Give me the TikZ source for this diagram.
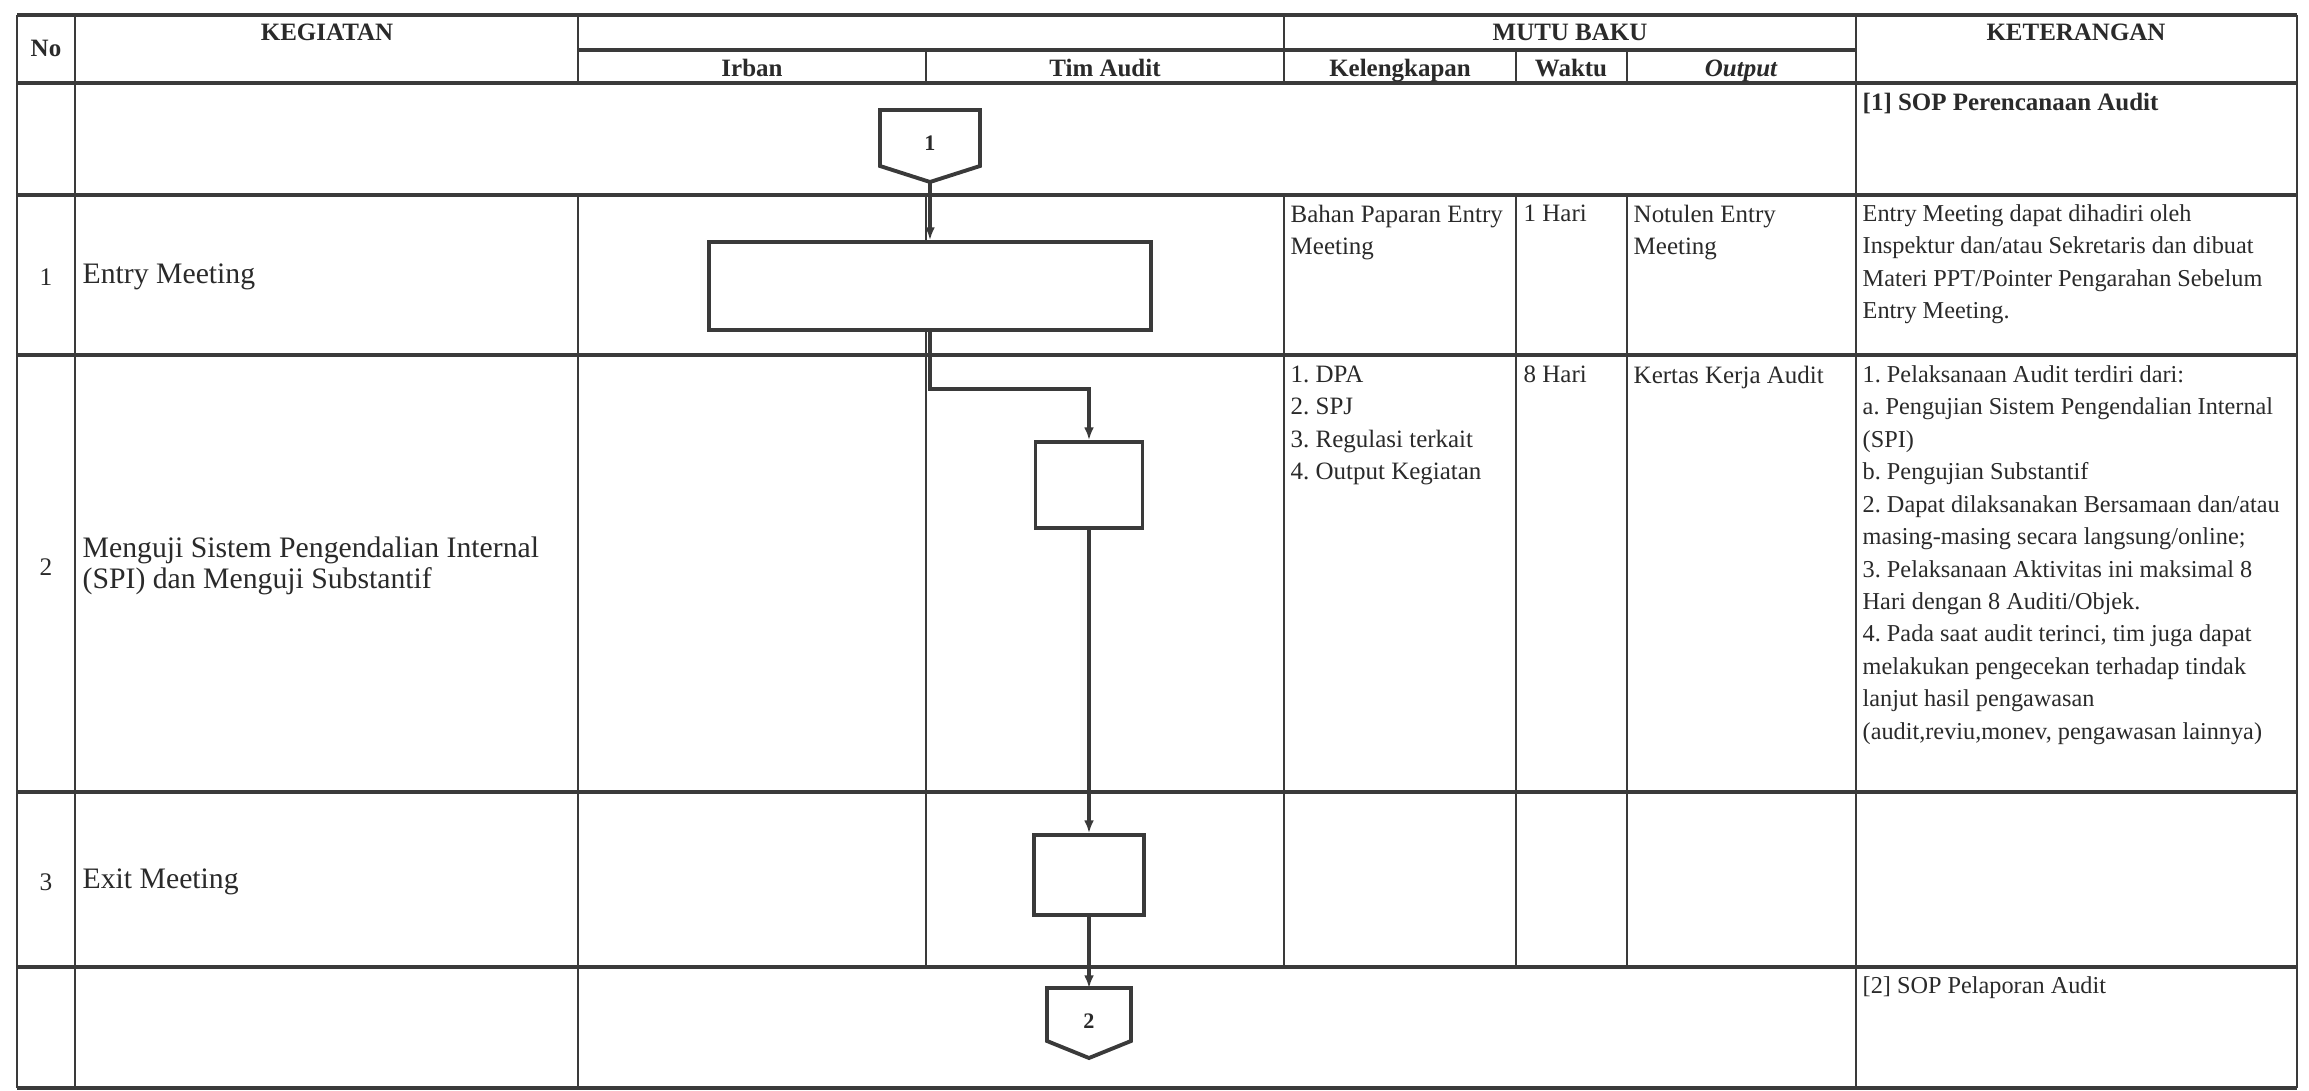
\documentclass[tikz,border=0pt]{standalone}
\usepackage{fontspec}
\setmainfont{Liberation Serif}
\usetikzlibrary{arrows.meta}
\definecolor{ink}{HTML}{2A2A2A}
\definecolor{rulec}{HTML}{3A3A3A}
\frenchspacing
\begin{document}
\begin{tikzpicture}[x=0.01cm,y=-0.01cm,
  hline/.style={draw=rulec,line width=0.9pt},
  vline/.style={draw=rulec,line width=0.55pt},
  hdr/.style={font=\fontsize{7.1}{8.5}\selectfont\bfseries,text=ink,inner sep=0pt,anchor=base},
  cell/.style={font=\fontsize{7.1}{9.22}\selectfont\frenchspacing,text=ink,inner sep=0pt,anchor=north west,align=left},
  ketcell/.style={cell,font=\fontsize{6.9}{9.22}\selectfont\frenchspacing},
  keg/.style={font=\fontsize{8.45}{8.7}\selectfont,text=ink,inner sep=0pt,anchor=west,align=left},
  num/.style={font=\fontsize{7.2}{8.6}\selectfont,text=ink,inner sep=0pt},
  lbl/.style={font=\fontsize{6.3}{7}\selectfont\bfseries,text=ink,inner sep=0pt},
  proc/.style={draw=rulec,line width=1.1pt,fill=white,inner sep=0pt},
  conn/.style={draw=rulec,line width=1.1pt,fill=white},
  flow/.style={draw=rulec,line width=0.9pt,-{Latex[length=3.6pt,width=2.8pt]}}]

\fill[white] (0,0) rectangle (2309,1091);
\useasboundingbox (0,0) rectangle (2309,1091);

% horizontal rules
\draw[hline] (17,15) -- (2297,15);
\draw[hline] (578,50) -- (1856,50);
\draw[hline] (17,83) -- (2297,83);
\draw[hline] (17,195) -- (2297,195);
\draw[hline] (17,355) -- (2297,355);
\draw[hline] (17,792) -- (2297,792);
\draw[hline] (17,967) -- (2297,967);
\draw[hline] (17,1088) -- (2297,1088);

% vertical rules
\draw[vline] (17,15) -- (17,1088);
\draw[vline] (75,15) -- (75,1088);
\draw[vline] (578,15) -- (578,83);
\draw[vline] (578,195) -- (578,1088);
\draw[vline] (926,50) -- (926,83);
\draw[vline] (926,195) -- (926,967);
\draw[vline] (1284,15) -- (1284,83);
\draw[vline] (1284,195) -- (1284,967);
\draw[vline] (1516,50) -- (1516,83);
\draw[vline] (1516,195) -- (1516,967);
\draw[vline] (1627,50) -- (1627,83);
\draw[vline] (1627,195) -- (1627,967);
\draw[vline] (1856,15) -- (1856,1088);
\draw[vline] (2297,15) -- (2297,1088);

% header
\node[hdr] (hno) at (46,57) {No};
\node[hdr] (hkeg) at (327,41) {KEGIATAN};
\node[hdr] (hmutu) at (1570,41) {MUTU BAKU};
\node[hdr] (hket) at (2076,41) {KETERANGAN};
\node[hdr] (hirb) at (752,77) {Irban};
\node[hdr] (htim) at (1105,77) {Tim Audit};
\node[hdr] (hkel) at (1400,77) {Kelengkapan};
\node[hdr] (hwak) at (1571,77) {Waktu};
\node[hdr] (hout) at (1741,77) {\itshape Output};

% row 0
\node[cell] (k0) at (1862,92) {\bfseries [1] SOP Perencanaan Audit};

% row 1
\node[num] (n1) at (46,277) {1};
\node[keg] (g1) at (82,277) {Entry Meeting};
\node[cell] (l1) at (1290,204) {Bahan Paparan Entry\\Meeting};
\node[cell] (w1) at (1523,204) {1 Hari};
\node[cell] (o1) at (1633,204) {Notulen Entry\\Meeting};
\node[ketcell] (k1) at (1862,204) {Entry Meeting dapat dihadiri oleh\\Inspektur dan/atau Sekretaris dan dibuat\\Materi PPT/Pointer Pengarahan Sebelum\\Entry Meeting.};

% row 2
\node[num] (n2) at (46,567) {2};
\node[keg] (g2) at (82,566) {Menguji Sistem Pengendalian Internal\\(SPI) dan Menguji Substantif};
\node[cell] (l2) at (1290,365) {1. DPA\\2. SPJ\\3. Regulasi terkait\\4. Output Kegiatan};
\node[cell] (w2) at (1523,365) {8 Hari};
\node[cell] (o2) at (1633,365) {Kertas Kerja Audit};
\node[ketcell] (k2) at (1862,365) {1. Pelaksanaan Audit terdiri dari:\\a. Pengujian Sistem Pengendalian Internal\\(SPI)\\b. Pengujian Substantif\\2. Dapat dilaksanakan Bersamaan dan/atau\\masing-masing secara langsung/online;\\3. Pelaksanaan Aktivitas ini maksimal 8\\Hari dengan 8 Auditi/Objek.\\4. Pada saat audit terinci, tim juga dapat\\melakukan pengecekan terhadap tindak\\lanjut hasil pengawasan\\(audit,reviu,monev, pengawasan lainnya)};

% row 3
\node[num] (n3) at (46,882) {3};
\node[keg] (g3) at (82,882) {Exit Meeting};

% row 4
\node[ketcell] (k4) at (1862,976) {[2] SOP Pelaporan Audit};

% flowchart
\draw[conn] (880,110) -- (980,110) -- (980,166) -- (930,182) -- (880,166) -- cycle;
\coordinate (c1tip) at (930,182);
\node[lbl] (c1) at (930,143) {1};

\node[proc,minimum width=4.42cm,minimum height=0.88cm] (b1) at (930,286) {};
\node[proc,minimum width=1.07cm,minimum height=0.86cm] (b2) at (1089,485) {};
\node[proc,minimum width=1.1cm,minimum height=0.8cm] (b3) at (1089,875) {};

\draw[conn] (1047,988) -- (1131,988) -- (1131,1041) -- (1089,1058) -- (1047,1041) -- cycle;
\coordinate (c2top) at (1089,988);
\node[lbl] (c2) at (1089,1021) {2};

\draw[flow] (c1tip) -- (b1.north);
\draw[flow] (b1.south) -- ++(0,57) -| (b2.north);
\draw[flow] (b2.south) -- (b3.north);
\draw[flow] (b3.south) -- (c2top);
\end{tikzpicture}
\end{document}
